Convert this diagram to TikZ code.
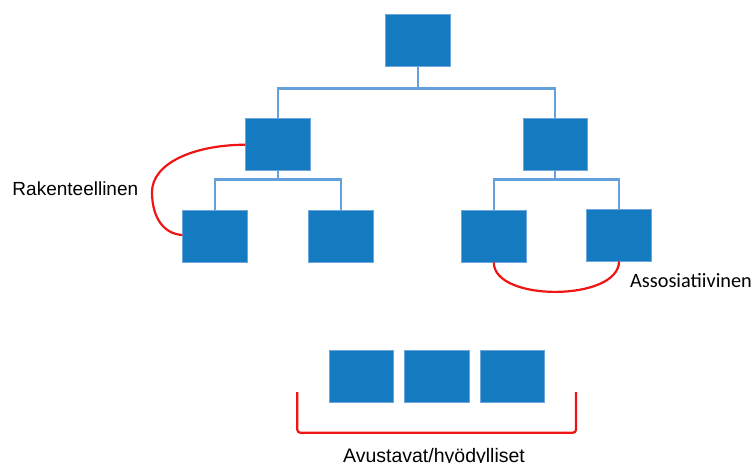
\documentclass[tikz,border=0pt]{standalone}
\usepackage{fontspec}
\setmainfont{Liberation Sans}
\newfontfamily\calfont{Carlito}
\definecolor{boxblue}{RGB}{20,123,192}
\definecolor{boxedge}{RGB}{110,165,220}
\definecolor{linkblue}{RGB}{100,160,220}
\definecolor{redline}{RGB}{240,20,20}
\tikzset{
  blk/.style={rectangle, fill=boxblue, draw=boxedge, line width=0.8pt, minimum width=64.5pt, minimum height=52pt, inner sep=0pt},
  link/.style={draw=linkblue, line width=2.2pt},
  redc/.style={draw=redline, line width=2.2pt},
  lbl/.style={inner sep=0pt, font=\fontsize{19}{22}\selectfont}
}
\begin{document}
\begin{tikzpicture}[x=1pt,y=-1pt]
\useasboundingbox (0,0) rectangle (756,463);
% boxes
\node[blk] (top) at (418,40.7) {};
\node[blk] (L2l) at (278,144) {};
\node[blk] (L2r) at (555.2,144) {};
\node[blk] (L3a) at (215,236) {};
\node[blk] (L3b) at (340.7,236) {};
\node[blk] (L3c) at (493.8,236) {};
\node[blk] (L3d) at (619,235) {};
\node[blk] (B1) at (361.3,376.5) {};
\node[blk] (B2) at (436.8,376.5) {};
\node[blk] (B3) at (512.3,376.5) {};
% tree connectors
\draw[link] (top.south) -- ++(0,21.3) -| (L2l.north);
\draw[link] (top.south) -- ++(0,21.3) -| (L2r.north);
\draw[link] (L2l.south) -- ++(0,9) -| (L3a.north);
\draw[link] (L2l.south) -- ++(0,9) -| (L3b.north);
\draw[link] (L2r.south) -- ++(0,9) -| (L3c.north);
\draw[link] (L2r.south) -- ++(0,9) -| (L3d.north);
% red curves
\draw[redc] ([yshift=-0.7pt]L2l.west) .. controls (192,145) and (152,164) .. (152,192)
  .. controls (152,218) and (164,234) .. ([yshift=1pt]L3a.west);
\draw[redc] (L3c.south) .. controls +(0,40) and +(0,40) .. (L3d.south);
% bracket
\coordinate (brl) at (297.3,392);
\coordinate (brr) at (576,392);
\draw[redc, rounded corners=3pt] (brl) -- (297.3,432.7) -- (576,432.7) -- (brr);
% labels
\node[lbl, anchor=base west] (rak) at (12.3,195) {Rakenteellinen};
\node[lbl, anchor=base west, font=\calfont\fontsize{20.3}{24}\selectfont] (ass) at (630,287) {Assosiatiivinen};
\node[lbl, anchor=base, font=\fontsize{19.5}{23}\selectfont] (avu) at (434,462) {Avustavat/hyödylliset};
\end{tikzpicture}
\end{document}
